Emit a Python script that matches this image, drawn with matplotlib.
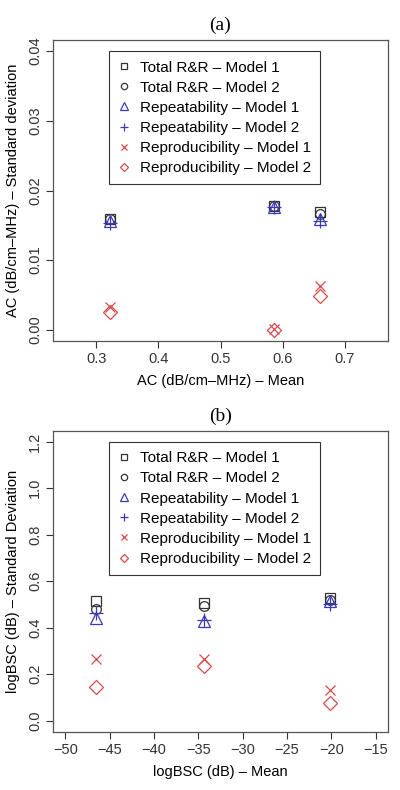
import matplotlib.pyplot as plt

plt.rcParams['font.family'] = ['Liberation Sans', 'DejaVu Sans']

# panel (a): AC
ac_mean = [0.322, 0.587, 0.661]
ac_total_m1 = [0.01595, 0.0178, 0.01695]
ac_total_m2 = [0.0159, 0.0178, 0.01657]
ac_rep_m1 = [0.0156, 0.0177, 0.01586]
ac_rep_m2 = [0.0153, 0.0176, 0.01557]
ac_repro_m1 = [0.00324, 0.0001, 0.00633]
ac_repro_m2 = [0.00262, 0.0, 0.0049]

# panel (b): logBSC
bsc_mean = [-46.55, -34.4, -20.1]
bsc_total_m1 = [0.515, 0.505, 0.527]
bsc_total_m2 = [0.479, 0.494, 0.520]
bsc_rep_m1 = [0.443, 0.429, 0.513]
bsc_rep_m2 = [0.461, 0.432, 0.503]
bsc_repro_m1 = [0.266, 0.263, 0.133]
bsc_repro_m2 = [0.144, 0.234, 0.077]

labels = ['Total R&R \u2013 Model 1', 'Total R&R \u2013 Model 2',
          'Repeatability \u2013 Model 1', 'Repeatability \u2013 Model 2',
          'Reproducibility \u2013 Model 1', 'Reproducibility \u2013 Model 2']

black = '#333333'
blue = '#3a3ab8'
red = '#d84a4a'
styles = [('s', black, 7), ('o', black, 7), ('^', blue, 8.5),
          ('+', blue, 9.5), ('x', red, 7.5), ('D', red, 7)]

fig = plt.figure(figsize=(4, 7.9), dpi=100)
W, H = 400, 790
ax_a = fig.add_axes([53 / W, 1 - 341 / H, 335 / W, 301 / H])
ax_b = fig.add_axes([53 / W, 1 - 731.7 / H, 335 / W, 301 / H])


def draw(ax, x, series, title, xlabel, ylabel, xlim, ylim, xticks, yticks, fmt):
    for ys, (m, c, s), lab in zip(series, styles, labels):
        ax.plot(x, ys, linestyle='none', marker=m, markersize=s,
                markerfacecolor='none', markeredgecolor=c, color=c,
                markeredgewidth=0.9, label=lab)
    ax.set_xlim(*xlim)
    ax.set_ylim(*ylim)
    ax.set_xticks(xticks)
    ax.set_yticks(yticks)
    ax.set_xticklabels([fmt[0].format(v).replace('-', '\u2212') for v in xticks], fontsize=10.5)
    ax.set_yticklabels([fmt[1].format(v) for v in yticks], fontsize=10.5,
                       rotation=90, va='center')
    ax.tick_params(length=5, width=0.8, colors='#333333', pad=3)
    for sp in ax.spines.values():
        sp.set_color('#555555')
        sp.set_linewidth(0.9)
    ax.set_xlabel(xlabel, fontsize=10.5, labelpad=6)
    ax.set_ylabel(ylabel, fontsize=10.5, labelpad=6)
    ax.set_title(title, fontsize=14, family=['Liberation Serif'], pad=7)
    leg = ax.legend(loc='upper left', bbox_to_anchor=(0.167, 0.962),
                    borderaxespad=0, fontsize=11, markerscale=0.65,
                    handlelength=0.8, handletextpad=0.6, borderpad=0.6,
                    labelspacing=0.40, fancybox=False, framealpha=1,
                    edgecolor='#333333')
    leg.get_frame().set_linewidth(0.8)


draw(ax_a, ac_mean,
     [ac_total_m1, ac_total_m2, ac_rep_m1, ac_rep_m2, ac_repro_m1, ac_repro_m2],
     '(a)', 'AC (dB/cm\u2013MHz) \u2013 Mean',
     'AC (dB/cm\u2013MHz) \u2013 Standard deviation',
     (0.23, 0.77), (-0.0016, 0.0416),
     [0.3, 0.4, 0.5, 0.6, 0.7], [0.0, 0.01, 0.02, 0.03, 0.04],
     ('{:.1f}', '{:.2f}'))

draw(ax_b, bsc_mean,
     [bsc_total_m1, bsc_total_m2, bsc_rep_m1, bsc_rep_m2, bsc_repro_m1, bsc_repro_m2],
     '(b)', 'logBSC (dB) \u2013 Mean',
     'logBSC (dB) \u2013 Standard Deviation',
     (-51.4, -13.6), (-0.048, 1.248),
     [-50, -45, -40, -35, -30, -25, -20, -15], [0.0, 0.2, 0.4, 0.6, 0.8, 1.0, 1.2],
     ('{:d}', '{:.1f}'))

fig.savefig('out.png', dpi=100)
